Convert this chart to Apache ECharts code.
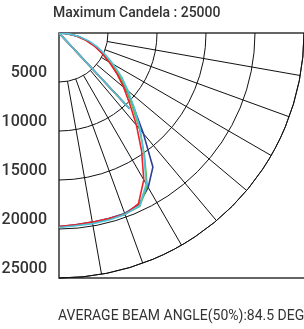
<!DOCTYPE html>
<html>
<head>
<meta charset="utf-8">
<script src="https://cdn.jsdelivr.net/npm/echarts@6/dist/echarts.min.js"></script>
<style>
  html, body { margin: 0; padding: 0; background: #fff; }
  #main { width: 304px; height: 329px; }
</style>
</head>
<body>
<div id="main"></div>
<script>
// angle from nadir (deg) and candela for each measured curve
const angles = [0, 5, 10, 15, 20, 25, 30, 35, 40, 45, 50, 55, 60, 65, 70, 75, 80, 85, 90];
const redCd   = [19750, 19650, 19600, 19600, 19700, 19200, 17300, 14700, 12300, 10200, 8600, 7200, 5900, 4800, 3800, 2800, 1800, 800, 0];
const greenCd = [19800, 19700, 19700, 19700, 19650, 19500, 18000, 15200, 12800, 10600, 9000, 7500, 6100, 5000, 4000, 3000, 2000, 950, 0];
const blueCd  = [19750, 19650, 19600, 19600, 19600, 19300, 18200, 16700, 13400, 10800, 8900, 7300, 6000, 4900, 3900, 2900, 1900, 900, 0];
const cyanCd  = [19850, 19750, 19750, 19750, 19700, 19450, 17800, 15100, 12900, 10900, 9200, 7800, 6400, 5200, 4200, 3200, 2100, 1000, 0];
// the closing stroke back from the origin
const closingAngle = 43;
const closingCd = [9900, 10300, 10500, 10600];

const rayAngles = [10, 20, 30, 40, 50, 60, 70, 80];
const rayFrom = 5000;
const rayTo = 25000;

const curves = [
  { name: 'blue', color: '#2e3d96', values: blueCd, close: closingCd[2] },
  { name: 'green', color: '#5cb946', values: greenCd, close: closingCd[1] },
  { name: 'red', color: '#ee2228', values: redCd, close: closingCd[0] },
  { name: 'cyan', color: '#4ec3de', values: cyanCd, close: closingCd[3] }
];

var chartDom = document.getElementById('main');
var myChart = echarts.init(chartDom);

const series = [];
rayAngles.forEach(a => {
  series.push({
    type: 'line',
    coordinateSystem: 'polar',
    silent: true,
    symbol: 'none',
    z: 1,
    lineStyle: { color: '#111', width: 1 },
    data: [[rayFrom, a], [rayTo, a]]
  });
});
curves.forEach(c => {
  const data = angles.map((a, i) => [c.values[i], a]);
  data.push([c.close, closingAngle]);
  series.push({
    name: c.name,
    type: 'line',
    coordinateSystem: 'polar',
    symbol: 'none',
    z: 3,
    lineStyle: { color: c.color, width: 1.6 },
    data: data
  });
});

var option = {
  animation: false,
  title: [
    {
      text: 'Maximum Candela : 25000',
      left: 53, top: 6, padding: 0,
      textStyle: { fontFamily: 'Roboto', fontSize: 14, fontWeight: 500, color: '#333' }
    },
    {
      text: 'AVERAGE BEAM ANGLE(50%):84.5 DEG',
      left: 58, top: 309, padding: 0,
      textStyle: { fontFamily: 'Roboto', fontSize: 14, fontWeight: 'normal', color: '#333' }
    }
  ],
  polar: { center: [59, 33], radius: 245 },
  angleAxis: {
    type: 'value', min: 0, max: 90,
    startAngle: 270, endAngle: 360, clockwise: false,
    axisLine: { show: true, lineStyle: { color: '#111', width: 1 } },
    axisTick: { show: false },
    axisLabel: { show: false },
    splitLine: { show: false }
  },
  radiusAxis: {
    type: 'value', min: 0, max: 25000, interval: 5000,
    axisLine: { show: false },
    axisTick: { show: false },
    splitLine: { show: true, lineStyle: { color: '#111', width: 1 } },
    axisLabel: {
      margin: -12,
      align: 'right',
      verticalAlign: 'bottom',
      lineHeight: 18,
      fontFamily: 'Roboto', fontSize: 16, fontWeight: 500, color: '#333',
      formatter: v => v === 0 ? '' : String(v)
    }
  },
  graphic: [{
    type: 'rect', z: 0,
    shape: { x: 59, y: 33, width: 260, height: 245 },
    style: { fill: 'none', stroke: '#333', lineWidth: 1.5 }
  }],
  series: series
};

option && myChart.setOption(option);
</script>
</body>
</html>
